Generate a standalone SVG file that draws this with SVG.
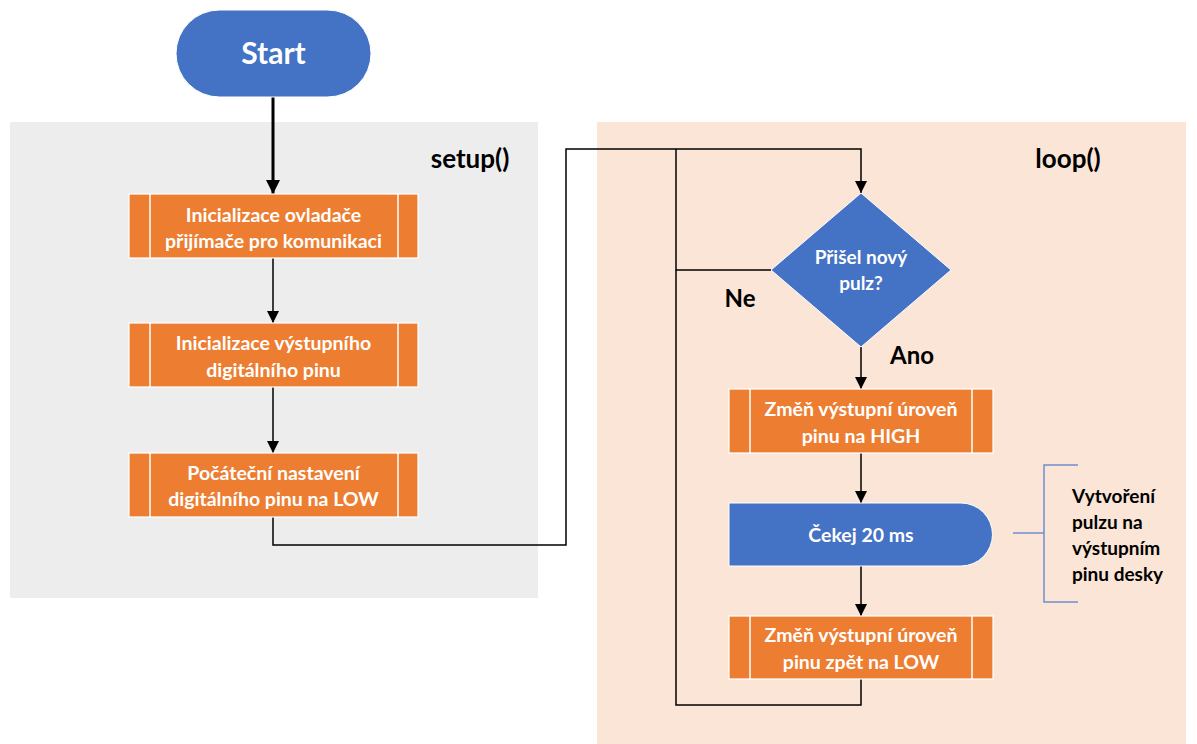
<svg xmlns="http://www.w3.org/2000/svg" width="1197" height="744" viewBox="0 0 1197 744">
<defs>
<marker id="ah" markerWidth="12" markerHeight="12" refX="12" refY="6" orient="auto" markerUnits="userSpaceOnUse">
<path d="M0,0 L12,6 L0,12 Z" fill="#000"/>
</marker>
<marker id="ahb" markerWidth="14" markerHeight="14" refX="14" refY="7" orient="auto" markerUnits="userSpaceOnUse">
<path d="M0,0 L14,7 L0,14 Z" fill="#000"/>
</marker>
<style>
.proc{fill:#ed7d31;stroke:#fff;stroke-width:1.2}
.inner{stroke:#fff;stroke-width:1.5}
.blue{fill:#4472c4;stroke:#fff;stroke-width:1}
.wt{font-family:Lato,"Open Sans","Liberation Sans",sans-serif;font-weight:bold;fill:#fff;font-size:19.5px;text-anchor:middle}
.bt{font-family:Lato,"Open Sans","Liberation Sans",sans-serif;font-weight:bold;fill:#000}
.conn{fill:none;stroke:#000;stroke-width:1.5}
</style>
</defs>
<rect width="1197" height="744" fill="#fff"/>
<g id="setup-region">
<rect x="10" y="122" width="528" height="476" fill="#ededed"/>
<text class="bt" x="470" y="168" style="font-size:26px" text-anchor="middle">setup()</text>
</g>
<g id="loop-region">
<rect x="597" y="122" width="589" height="622" fill="#fbe5d6"/>
<text class="bt" x="1068" y="168" style="font-size:26px" text-anchor="middle">loop()</text>
</g>
<g id="connectors">
<line x1="273" y1="97" x2="273" y2="194" stroke="#000" stroke-width="3" marker-end="url(#ahb)"/>
<line class="conn" x1="273" y1="258" x2="273" y2="323" marker-end="url(#ah)"/>
<line class="conn" x1="273" y1="387" x2="273" y2="453" marker-end="url(#ah)"/>
<polyline class="conn" points="273,517 273,545 566,545 566,149 861,149 861,193" marker-end="url(#ah)"/>
<polyline class="conn" points="771,270 676,270 676,149"/>
<polyline class="conn" points="861,679 861,705 676,705 676,270"/>
<line class="conn" x1="861" y1="347" x2="861" y2="389" marker-end="url(#ah)"/>
<line class="conn" x1="861" y1="453" x2="861" y2="503" marker-end="url(#ah)"/>
<line class="conn" x1="861" y1="566" x2="861" y2="616" marker-end="url(#ah)"/>
<text class="bt" x="740" y="307" style="font-size:24px" text-anchor="middle">Ne</text>
<text class="bt" x="912" y="364" style="font-size:24px" text-anchor="middle">Ano</text>
</g>
<g id="start">
<rect x="176" y="10" width="195" height="87" rx="43.5" ry="43.5" class="blue"/>
<text class="wt" x="273.5" y="64" style="font-size:30px">Start</text>
</g>
<g id="init-driver">
<rect x="129" y="194" width="289" height="64" class="proc"/>
<line class="inner" x1="150" y1="194" x2="150" y2="258"/>
<line class="inner" x1="398" y1="194" x2="398" y2="258"/>
<text class="wt" x="273.5" y="222">Inicializace ovladače</text>
<text class="wt" x="273.5" y="248">přijímače pro komunikaci</text>
</g>
<g id="init-pin">
<rect x="129" y="323" width="289" height="64" class="proc"/>
<line class="inner" x1="150" y1="323" x2="150" y2="387"/>
<line class="inner" x1="398" y1="323" x2="398" y2="387"/>
<text class="wt" x="273.5" y="350">Inicializace výstupního</text>
<text class="wt" x="273.5" y="377">digitálního pinu</text>
</g>
<g id="init-low">
<rect x="129" y="453" width="289" height="64" class="proc"/>
<line class="inner" x1="150" y1="453" x2="150" y2="517"/>
<line class="inner" x1="398" y1="453" x2="398" y2="517"/>
<text class="wt" x="273.5" y="480">Počáteční nastavení</text>
<text class="wt" x="273.5" y="506">digitálního pinu na LOW</text>
</g>
<g id="decision">
<polygon points="861,193 951,270 861,347 771,270" class="blue"/>
<text class="wt" x="861" y="264" style="font-size:19px">Přišel nový</text>
<text class="wt" x="861" y="290" style="font-size:19px">pulz?</text>
</g>
<g id="set-high">
<rect x="729" y="389" width="264" height="64" class="proc"/>
<line class="inner" x1="750" y1="389" x2="750" y2="453"/>
<line class="inner" x1="972" y1="389" x2="972" y2="453"/>
<text class="wt" x="861" y="416">Změň výstupní úroveň</text>
<text class="wt" x="861" y="443">pinu na HIGH</text>
</g>
<g id="wait">
<path d="M729,503 H961 A31.5,31.5 0 0 1 961,566 H729 Z" class="blue"/>
<text class="wt" x="861" y="542">Čekej 20 ms</text>
</g>
<g id="set-low">
<rect x="729" y="616" width="264" height="63" class="proc"/>
<line class="inner" x1="750" y1="616" x2="750" y2="679"/>
<line class="inner" x1="972" y1="616" x2="972" y2="679"/>
<text class="wt" x="861" y="642">Změň výstupní úroveň</text>
<text class="wt" x="861" y="669">pinu zpět na LOW</text>
</g>
<g id="annotation">
<polyline points="1078,465 1044,465 1044,602 1078,602" fill="none" stroke="#6f8fd0" stroke-width="1.5"/>
<line x1="1013" y1="533" x2="1044" y2="533" stroke="#6f8fd0" stroke-width="1.5"/>
<text class="bt" style="font-size:19px" x="1072" y="503">Vytvoření</text>
<text class="bt" style="font-size:19px" x="1072" y="529">pulzu na</text>
<text class="bt" style="font-size:19px" x="1072" y="555">výstupním</text>
<text class="bt" style="font-size:19px" x="1072" y="581">pinu desky</text>
</g>
</svg>
